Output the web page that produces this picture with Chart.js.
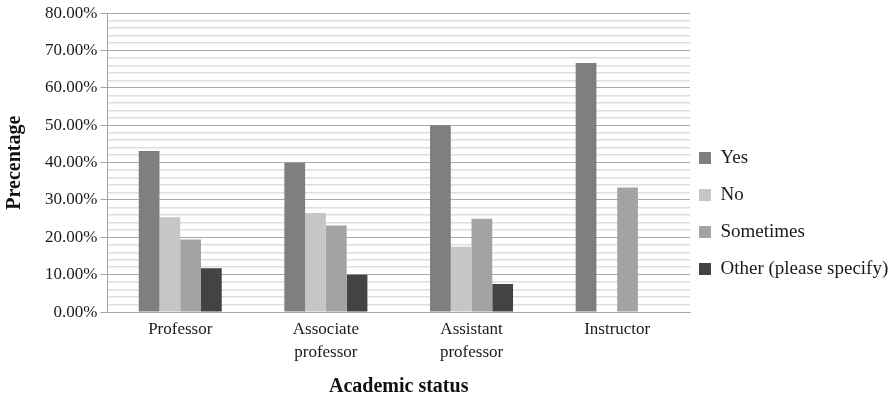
<!DOCTYPE html>
<html>
<head>
<meta charset="utf-8">
<script src="https://cdn.jsdelivr.net/npm/chart.js@4.4.1/dist/chart.umd.min.js"></script>
<style>
  html, body { margin: 0; padding: 0; background: #fff; }
  #wrap { width: 894px; height: 400px; }
</style>
</head>
<body>
<div id="wrap"><canvas id="barChart" width="894" height="400"></canvas></div>
<script>
// data
const categories = ['Professor', ['Associate', 'professor'], ['Assistant', 'professor'], 'Instructor'];
const seriesNames = ['Yes', 'No', 'Sometimes', 'Other (please specify)'];
const yesValues = [43.1, 40.0, 50.0, 66.67];
const noValues = [25.4, 26.5, 17.5, 0];
const sometimesValues = [19.4, 23.2, 25.0, 33.33];
const otherValues = [11.7, 10.0, 7.5, 0];
const seriesColors = ['#7f7f7f', '#c6c6c6', '#a3a3a3', '#434343'];

const serif = '"Liberation Serif", "Times New Roman", serif';

// force legend width so the plot ends where the reference does,
// then nudge the legend a bit left / down
const legendWidthPlugin = {
    id: 'legendWidth',
    beforeInit(chart) {
        const origFit = chart.legend.fit;
        chart.legend.fit = function() {
            origFit.bind(chart.legend)();
            this.width = 204;
        };
    },
    afterLayout(chart) {
        const lg = chart.legend;
        lg.left -= 9;
        lg.right = chart.width;
        lg.width = lg.right - lg.left;
        lg.top += 8;
        lg.bottom += 8;
    }
};

const allValues = [yesValues, noValues, sometimesValues, otherValues];

const ctx = document.getElementById('barChart').getContext('2d');
const chart = new Chart(ctx, {
    type: 'bar',
    data: {
        labels: categories,
        datasets: seriesNames.map((name, i) => ({
            label: name,
            data: allValues[i],
            backgroundColor: seriesColors[i],
            borderWidth: 0,
            barPercentage: 1,
            categoryPercentage: 0.57
        }))
    },
    options: {
        responsive: false,
        animation: false,
        devicePixelRatio: 1,
        layout: {
            padding: { top: 12, left: 3, bottom: 1, right: 0 }
        },
        plugins: {
            tooltip: { enabled: false },
            legend: {
                position: 'right',
                align: 'center',
                labels: {
                    boxWidth: 12,
                    boxHeight: 12,
                    padding: 18,
                    color: '#1a1a1a',
                    font: { family: serif, size: 19 }
                }
            }
        },
        scales: {
            x: {
                grid: { display: false, drawTicks: false },
                border: { display: true, color: '#a6a6a6', width: 1 },
                ticks: {
                    color: '#1a1a1a',
                    padding: 5,
                    maxRotation: 0,
                    autoSkip: false,
                    font: { family: serif, size: 17, lineHeight: 1.41 }
                },
                title: {
                    display: true,
                    text: 'Academic status',
                    color: '#111',
                    font: { family: serif, size: 20, weight: 'bold' },
                    padding: { top: 5, bottom: 0 }
                }
            },
            y: {
                min: 0,
                max: 80,
                border: { display: true, color: '#a6a6a6', width: 1 },
                grid: {
                    color: c => (c.tick && c.tick.value % 10 === 0) ? '#a9a9a9' : '#dedede',
                    lineWidth: c => (c.tick && c.tick.value % 10 === 0) ? 1 : 1.5,
                    tickColor: c => (c.tick && c.tick.value % 10 === 0) ? '#a6a6a6' : 'rgba(0,0,0,0)',
                    tickLength: 7
                },
                ticks: {
                    stepSize: 2,
                    autoSkip: false,
                    color: '#1a1a1a',
                    padding: 3,
                    font: { family: serif, size: 17 },
                    callback: v => (v % 10 === 0) ? v.toFixed(2) + '%' : ''
                },
                title: {
                    display: true,
                    text: 'Precentage',
                    color: '#111',
                    font: { family: serif, size: 20, weight: 'bold' },
                    padding: { top: 0, bottom: 15 }
                }
            }
        }
    },
    plugins: [legendWidthPlugin]
});
</script>
</body>
</html>
